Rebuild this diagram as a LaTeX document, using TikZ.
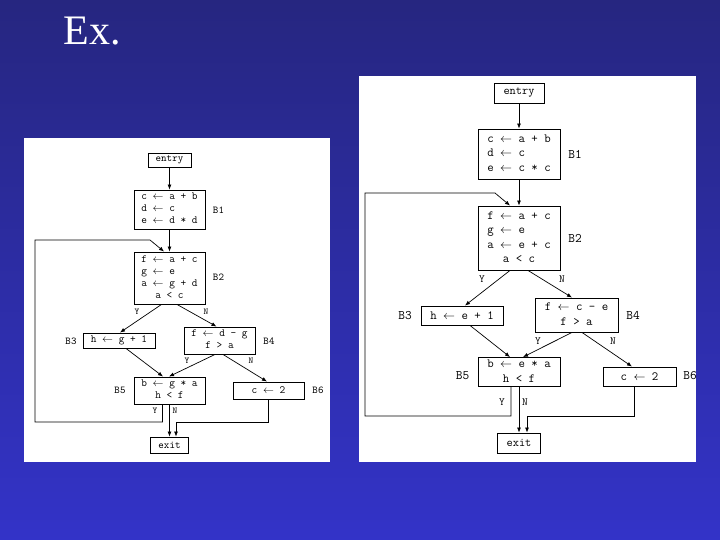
\documentclass[tikz,border=0pt]{standalone}
\usepackage{fontspec}
\usepackage{tikz}
\usetikzlibrary{arrows.meta,calc}
\newfontfamily\titlefont{Liberation Serif}
\definecolor{bgtop}{RGB}{38,38,128}
\definecolor{bgbottom}{RGB}{51,51,200}
\newcommand{\asgn}{$\leftarrow$}
\newcommand{\cnd}[1]{\multicolumn{1}{@{}c@{}}{#1}}
\newcommand{\stmts}[1]{\begin{tabular}{@{}l@{}}#1\end{tabular}}
\tikzset{
    block/.style={
        rectangle,
        draw,
        fill=white,
        line width=0.9pt,
        inner sep=0pt,
        text centered
    },
    lblock/.style={
        block,
        minimum width=71pt,
        font=\ttfamily\fontsize{11}{12}\selectfont
    },
    rblock/.style={
        block,
        minimum width=82pt,
        font=\ttfamily\fontsize{12.5}{14.5}\selectfont
    },
    lterm/.style={
        block,
        font=\ttfamily\fontsize{10.5}{10.5}\selectfont
    },
    rterm/.style={
        block,
        font=\ttfamily\fontsize{12}{12}\selectfont
    },
    ltag/.style={font=\ttfamily\fontsize{10.5}{10.5}\selectfont},
    rtag/.style={font=\ttfamily\fontsize{13}{13}\selectfont},
    lyn/.style={font=\ttfamily\fontsize{9}{9}\selectfont},
    ryn/.style={font=\ttfamily\fontsize{11}{11}\selectfont},
    flow/.style={
        -{Latex[length=5pt,width=4pt]},
        line width=0.7pt
    }
}
\begin{document}
\begin{tikzpicture}[x=1pt,y=-1pt]
    \useasboundingbox (0,0) rectangle (720,540);
    \shade[top color=bgtop,bottom color=bgbottom] (0,0) rectangle (720,540);
    \node[anchor=base west,text=white,font=\titlefont\fontsize{42}{42}\selectfont] (title) at (60,45) {Ex.};

    % Panels
    \fill[white] (24,138) rectangle (330,462);
    \fill[white] (359,76) rectangle (696,462);

    % Left graph
    \node[lterm,minimum width=43pt,minimum height=14pt] (lentry) at (169.5,160) {entry};
    \node[lblock,minimum height=39pt] (lb1) at (169.5,209.5) {\stmts{c \asgn{} a + b\\d \asgn{} c\\e \asgn{} d * d}};
    \node[lblock,minimum height=52pt] (lb2) at (169.5,278) {\stmts{f \asgn{} a + c\\g \asgn{} e\\a \asgn{} g + d\\\cnd{a < c}}};
    \node[lblock,minimum width=72pt,minimum height=15pt] (lb3) at (119,340.5) {h \asgn{} g + 1};
    \node[lblock,minimum height=27pt] (lb4) at (219.5,340.5) {\stmts{f \asgn{} d - g\\\cnd{f > a}}};
    \node[lblock,minimum height=27pt] (lb5) at (169.5,390.5) {\stmts{b \asgn{} g * a\\\cnd{h < f}}};
    \node[lblock,minimum height=17pt] (lb6) at (268.5,390.5) {c \asgn{} 2};
    \node[lterm,minimum width=38pt,minimum height=16pt] (lexit) at (169.5,445) {exit};
    \node[ltag] (lt1) at (218.5,210) {B1};
    \node[ltag] (lt2) at (218.5,277) {B2};
    \node[ltag] (lt3) at (71,341) {B3};
    \node[ltag] (lt4) at (269,341) {B4};
    \node[ltag] (lt5) at (120,390) {B5};
    \node[ltag] (lt6) at (318,390) {B6};
    \coordinate (lloopa) at (35,422);
    \coordinate (lloopb) at (150,240);
    \coordinate (ljoin) at (176,422);

    \draw[flow] (lentry) -- (lb1);
    \draw[flow] (lb1) -- (lb2);
    \draw[flow] ([xshift=-8pt]lb2.south) -- ([xshift=1pt]lb3.north);
    \draw[flow] ([xshift=7.5pt]lb2.south) -- ([xshift=-3pt]lb4.north);
    \draw[flow] ([xshift=7pt]lb3.south) -- ([xshift=-6.5pt]lb5.north);
    \draw[flow] ([xshift=-4.5pt]lb4.south) -- ([xshift=-0.5pt]lb5.north);
    \draw[flow] ([xshift=3.5pt]lb4.south) -- ([xshift=-1.5pt]lb6.north);
    \draw[flow] ([xshift=-7pt]lb5.south) |- (lloopa) |- (lloopb) -- ([xshift=-5.5pt]lb2.north);
    \draw[flow] (lb5) -- (lexit);
    \draw[flow] (lb6.south) |- (ljoin) -- (ljoin |- lexit.north);
    \node[lyn] at (137,312) {Y};
    \node[lyn] at (206,312) {N};
    \node[lyn] at (187,361) {Y};
    \node[lyn] at (251,361) {N};
    \node[lyn] at (155,411) {Y};
    \node[lyn] at (175,411) {N};

    % Right graph
    \node[rterm,minimum width=50pt,minimum height=20pt] (rentry) at (519,93) {entry};
    \node[rblock,minimum height=50pt] (rb1) at (519,154) {\stmts{c \asgn{} a + b\\d \asgn{} c\\e \asgn{} c * c}};
    \node[rblock,minimum height=64pt] (rb2) at (519,238) {\stmts{f \asgn{} a + c\\g \asgn{} e\\a \asgn{} e + c\\\cnd{a < c}}};
    \node[rblock,minimum height=19pt] (rb3) at (462,315.5) {h \asgn{} e + 1};
    \node[rblock,minimum width=83pt,minimum height=34pt] (rb4) at (576.5,315) {\stmts{f \asgn{} c - e\\\cnd{f > a}}};
    \node[rblock,minimum height=26pt] (rb5) at (519,372) {\stmts{b \asgn{} e * a\\\cnd{h < f}}};
    \node[rblock,minimum width=73pt,minimum height=19pt] (rb6) at (639.5,376.5) {c \asgn{} 2};
    \node[rterm,minimum width=43pt,minimum height=20pt] (rexit) at (519,443) {exit};
    \node[rtag] (rt1) at (575,154) {B1};
    \node[rtag] (rt2) at (575,238) {B2};
    \node[rtag] (rt3) at (405,315.5) {B3};
    \node[rtag] (rt4) at (633,315) {B4};
    \node[rtag] (rt5) at (462.5,376) {B5};
    \node[rtag] (rt6) at (690,376) {B6};
    \coordinate (rloopa) at (365,416);
    \coordinate (rloopb) at (495,193);
    \coordinate (rjoin) at (527,416);

    \draw[flow] (rentry) -- (rb1);
    \draw[flow] (rb1) -- (rb2);
    \draw[flow] ([xshift=-9pt]rb2.south) -- ([xshift=3pt]rb3.north);
    \draw[flow] ([xshift=9pt]rb2.south) -- ([xshift=-4.5pt]rb4.north);
    \draw[flow] ([xshift=8pt]rb3.south) -- ([xshift=-9pt]rb5.north);
    \draw[flow] ([xshift=-4.5pt]rb4.south) -- ([xshift=4pt]rb5.north);
    \draw[flow] ([xshift=5.5pt]rb4.south) -- ([xshift=-7.5pt]rb6.north);
    \draw[flow] ([xshift=-8pt]rb5.south) |- (rloopa) |- (rloopb) -- ([xshift=-9pt]rb2.north);
    \draw[flow] (rb5) -- (rexit);
    \draw[flow] ([xshift=-5.5pt]rb6.south) |- (rjoin) -- (rjoin |- rexit.north);
    \node[ryn] at (482,279) {Y};
    \node[ryn] at (562,279) {N};
    \node[ryn] at (538,341) {Y};
    \node[ryn] at (613,341) {N};
    \node[ryn] at (502,402) {Y};
    \node[ryn] at (525,402) {N};
\end{tikzpicture}
\end{document}
